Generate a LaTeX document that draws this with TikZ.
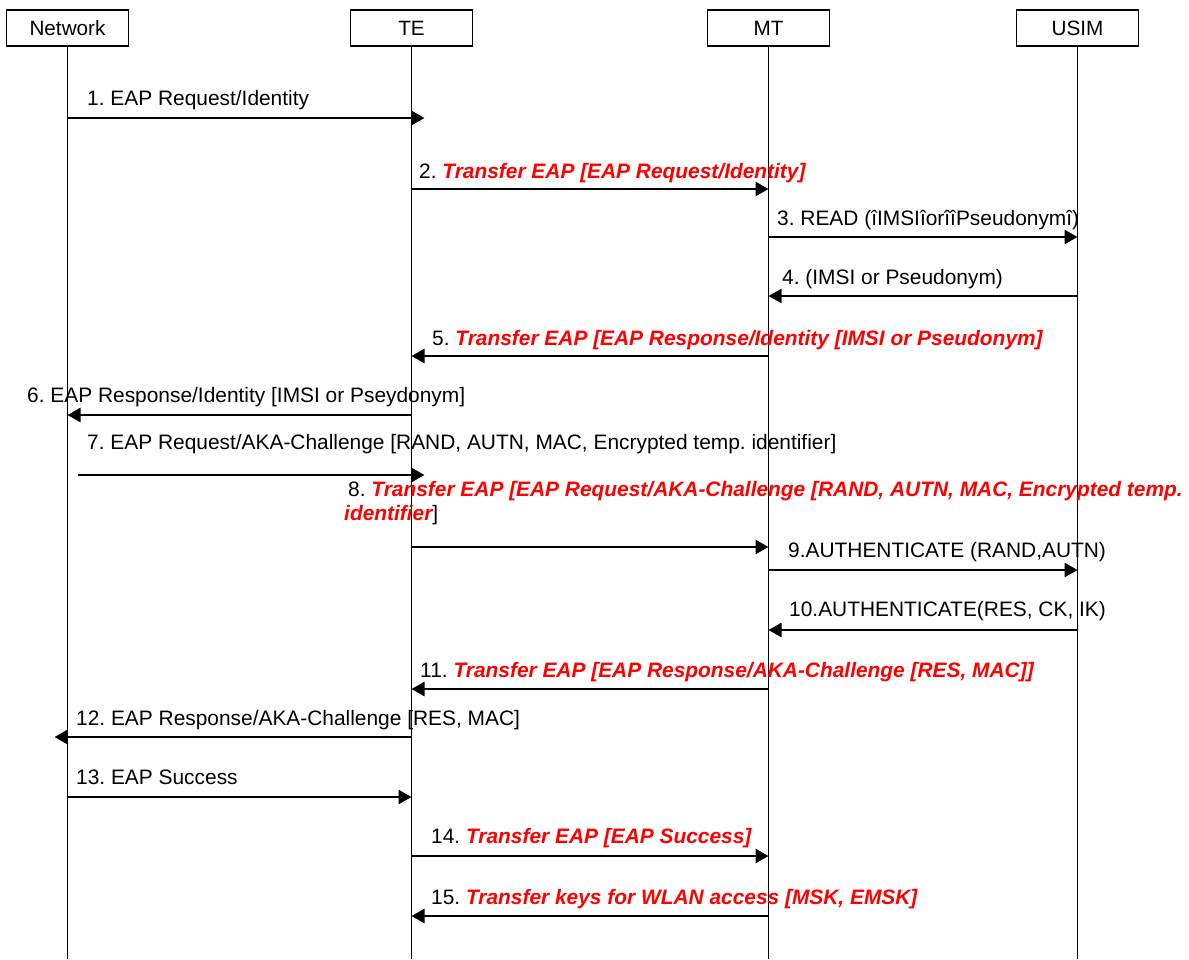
\documentclass[tikz,border=0pt]{standalone}
\usepackage{fontspec}
\setmainfont{Liberation Sans}
\usetikzlibrary{arrows.meta}
\newcommand\redit[1]{\textcolor{red}{\bfseries\itshape #1}}
\frenchspacing
\begin{document}
\begin{tikzpicture}[x=1pt,y=-1pt,
  hdr/.style={draw,line width=1.2pt,minimum width=122pt,minimum height=36pt,inner sep=0pt,font=\fontsize{20.7}{24}\selectfont},
  life/.style={line width=1.2pt},
  msg/.style={line width=2.6pt,-{Triangle[length=13pt,width=14pt]}},
  lbl/.style={anchor=base west,inner sep=0pt,font=\fontsize{20.9}{24}\selectfont}
]
\useasboundingbox (0,0) rectangle (1189,959);
\node[hdr] (net) at (67.5,28) {Network};
\node[hdr] (te) at (411.5,28) {TE};
\node[hdr] (mt) at (768.5,28) {MT};
\node[hdr] (usim) at (1077.5,28) {USIM};
\coordinate (netB) at (67.5,959);
\coordinate (teB) at (411.5,959);
\coordinate (mtB) at (768.5,959);
\coordinate (usimB) at (1077.5,959);
\draw[life] (net.south) -- (netB);
\draw[life] (te.south) -- (teB);
\draw[life] (mt.south) -- (mtB);
\draw[life] (usim.south) -- (usimB);
\coordinate (teR) at ([xshift=13pt]te.south);
\coordinate (netR) at ([xshift=10pt]net.south);
\coordinate (netL) at ([xshift=-13pt]net.south);

% 1
\node[lbl] (l1) at (87,105) {1. EAP Request/Identity};
\draw[msg] (net |- 0,118) -- (teR |- 0,118);
% 2
\node[lbl] (l2) at (419,178) {2. \redit{Transfer EAP [EAP Request/Identity]}};
\draw[msg] (te |- 0,189) -- (mt |- 0,189);
% 3
\node[lbl] (l3) at (777,225) {3. READ (îIMSIîorîîPseudonymî)};
\draw[msg] (mt |- 0,237) -- (usim |- 0,237);
% 4
\node[lbl] (l4) at (782,284) {4. (IMSI or Pseudonym)};
\draw[msg] (usim |- 0,296) -- (mt |- 0,296);
% 5
\node[lbl] (l5) at (432,345) {5. \redit{Transfer EAP [EAP Response/Identity [IMSI or Pseudonym]}};
\draw[msg] (mt |- 0,356) -- (te |- 0,356);
% 6
\node[lbl] (l6) at (27,402) {6. EAP Response/Identity [IMSI or Pseydonym]};
\draw[msg] (te |- 0,415) -- (net |- 0,415);
% 7
\node[lbl] (l7) at (87,449) {7. EAP Request/AKA-Challenge [RAND, AUTN, MAC, Encrypted temp. identifier]};
\draw[msg] (netR |- 0,475) -- (teR |- 0,475);
% 8
\node[lbl] (l8a) at (348,496) {8. \redit{Transfer EAP [EAP Request/AKA-Challenge [RAND, AUTN, MAC, Encrypted temp.}};
\node[lbl] (l8b) at (344,520) {\redit{identifier}]};
\draw[msg] (te |- 0,547) -- (mt |- 0,547);
% 9
\node[lbl] (l9) at (788,557) {9.AUTHENTICATE (RAND,AUTN)};
\draw[msg] (mt |- 0,570) -- (usim |- 0,570);
% 10
\node[lbl] (l10) at (789,616) {10.AUTHENTICATE(RES, CK, IK)};
\draw[msg] (usim |- 0,630) -- (mt |- 0,630);
% 11
\node[lbl] (l11) at (420,677) {11. \redit{Transfer EAP [EAP Response/AKA-Challenge [RES, MAC]]}};
\draw[msg] (mt |- 0,689) -- (te |- 0,689);
% 12
\node[lbl] (l12) at (76,725) {12. EAP Response/AKA-Challenge [RES, MAC]};
\draw[msg] (te |- 0,737) -- (netL |- 0,737);
% 13
\node[lbl] (l13) at (76,784) {13. EAP Success};
\draw[msg] (net |- 0,797) -- (te |- 0,797);
% 14
\node[lbl] (l14) at (431,843) {14. \redit{Transfer EAP [EAP Success]}};
\draw[msg] (te |- 0,856) -- (mt |- 0,856);
% 15
\node[lbl] (l15) at (431,904) {15. \redit{Transfer keys for WLAN access [MSK, EMSK]}};
\draw[msg] (mt |- 0,916) -- (te |- 0,916);
\end{tikzpicture}
\end{document}
